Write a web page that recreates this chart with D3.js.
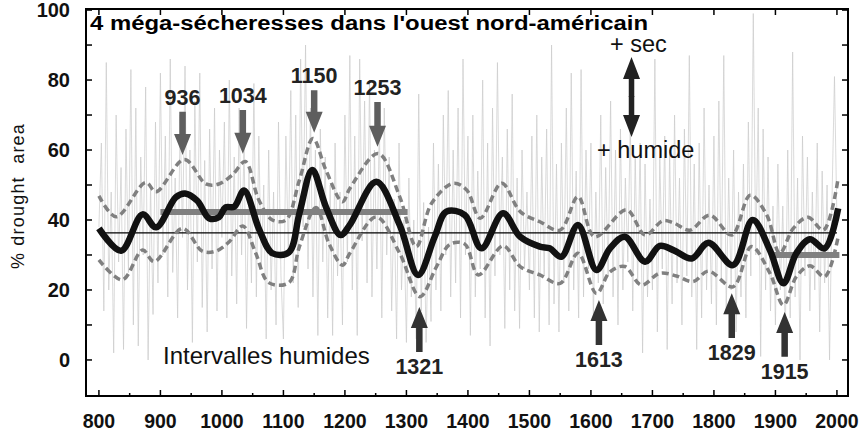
<!DOCTYPE html>
<html>
<head>
<meta charset="utf-8">
<script src="https://cdn.jsdelivr.net/npm/d3@7"></script>
<style>
  body { margin: 0; background: #fff; }
  svg { font-family: "Liberation Sans", Arial, sans-serif; }
</style>
</head>
<body>
<div id="chart"></div>
<script>
// annual drought area (sampled every 4 years, 800-2000)
var annualStart = 800, annualStep = 4;
var annualValues = [
  38, 62, 14, 85, 20, 48, 2, 70, 28, 55, 3, 66, 25, 83, 10, 72, 4, 58, 30, 78, 0, 50, 13, 68, 22,
  82, 30, 64, 18, 86, 25, 52, 12, 70, 35, 84, 20, 60, 5, 74, 28, 82, 15, 57, 8, 66, 26, 72, 14, 60,
  35, 68, 12, 80, 24, 58, 16, 72, 30, 62, 9, 54, 22, 79, 18, 64, 26, 50, 6, 60, 20, 48, 10, 68, 24,
  6, 64, 30, 77, 22, 70, 15, 86, 38, 90, 26, 72, 18, 60, 7, 66, 28, 58, 12, 50, 7, 62, 24, 48, 10,
  70, 28, 87, 20, 64, 7, 86, 34, 74, 22, 80, 18, 60, 26, 68, 12, 72, 30, 58, 14, 46, 6, 62, 20, 40,
  5, 52, 18, 40, 6, 76, 14, 45, 5, 38, 11, 62, 20, 56, 14, 70, 30, 77, 18, 60, 22, 72, 12, 86, 30,
  64, 7, 70, 18, 54, 26, 80, 12, 62, 4, 72, 24, 85, 30, 58, 9, 66, 20, 76, 14, 52, 9, 60, 26, 48,
  20, 64, 12, 70, 8, 58, 24, 66, 10, 90, 16, 56, 8, 62, 22, 72, 14, 82, 20, 54, 12, 83, 18, 60, 26,
  62, 12, 48, 22, 70, 16, 55, 24, 74, 18, 60, 10, 66, 20, 52, 28, 68, 14, 58, 22, 62, 2, 56, 18, 46,
  20, 86, 8, 58, 26, 64, 3, 60, 16, 70, 22, 52, 10, 66, 24, 87, 18, 56, 3, 62, 12, 72, 20, 50, 16,
  64, 10, 74, 22, 87, 14, 52, 20, 60, 8, 48, 18, 56, 12, 68, 24, 99, 30, 72, 1, 66, 20, 58, 14, 44,
  10, 56, 20, 44, 6, 60, 12, 88, 18, 52, 0, 64, 24, 58, 14, 48, 20, 62, 8, 54, 22, 50, 0, 46, 81,
  40
];

// smoothed series
var smoothYears = [800, 836, 871, 893, 925, 940, 960, 979, 995, 1006, 1020, 1036, 1061, 1082, 1109, 1126, 1147, 1169, 1193, 1208, 1251, 1289, 1319, 1346, 1365, 1395, 1422, 1457, 1485, 1517, 1533, 1552, 1579, 1609, 1631, 1655, 1688, 1712, 1734, 1764, 1791, 1831, 1863, 1891, 1913, 1934, 1956, 1980, 2002];
var smoothValues = [37.6, 31.2, 41.6, 37.9, 46.5, 47.6, 45.5, 40.5, 40.8, 43.6, 43.8, 48.4, 37.1, 30.5, 30.8, 41.9, 54.3, 43.8, 35.7, 38.6, 50.9, 38.6, 24.3, 35.2, 42.4, 41.4, 31.9, 41.9, 35.2, 32.4, 31.9, 29.5, 38.6, 25.7, 31.9, 35.2, 28.1, 32.6, 31.4, 29.0, 33.5, 27.1, 40.0, 31.4, 21.9, 30.5, 34.5, 31.9, 43.3];

// upper / lower confidence bounds
var upperYears = [800, 828, 876, 893, 939, 974, 995, 1017, 1038, 1060, 1082, 1104, 1126, 1148, 1169, 1196, 1208, 1254, 1289, 1316, 1341, 1376, 1398, 1420, 1455, 1485, 1517, 1550, 1579, 1606, 1658, 1688, 1717, 1734, 1761, 1793, 1829, 1859, 1886, 1907, 1929, 1953, 1978, 2002];
var upperValues = [46.9, 40.9, 50.7, 48.1, 57.3, 50.3, 50.3, 52.9, 56.7, 45.7, 40.0, 40.0, 51.4, 63.3, 54.3, 45.2, 49.0, 59.0, 46.7, 32.4, 44.8, 50.5, 48.6, 40.5, 50.5, 42.4, 39.5, 37.1, 46.7, 35.2, 42.9, 35.7, 39.8, 39.2, 37.1, 41.4, 35.7, 47.1, 41.4, 30.5, 37.6, 40.8, 37.1, 51.9];
var lowerYears = [800, 838, 871, 890, 936, 968, 990, 1012, 1034, 1055, 1076, 1109, 1126, 1153, 1174, 1196, 1208, 1251, 1289, 1322, 1349, 1371, 1395, 1417, 1457, 1485, 1517, 1550, 1579, 1609, 1631, 1655, 1682, 1712, 1739, 1766, 1791, 1831, 1861, 1891, 1913, 1934, 1956, 1980, 2002];
var lowerValues = [28.6, 22.9, 31.4, 28.1, 37.6, 31.1, 31.1, 33.8, 38.3, 30.5, 22.1, 22.1, 32.4, 43.6, 33.3, 27.1, 30.5, 40.9, 30.5, 18.1, 26.7, 33.1, 33.1, 24.3, 32.6, 26.7, 24.3, 21.9, 30.5, 19.0, 25.2, 26.7, 21.4, 24.8, 24.0, 22.4, 25.4, 20.9, 32.4, 24.8, 15.7, 23.8, 26.9, 23.8, 35.2];

var meanValue = 36.3;
var megaPeriods = [[900, 1302, 42.3], [1896, 2004, 30]];

// events: year, arrow start value, arrow tip value
var dryEvents = [[936, 70.9, 58.6], [1034, 71.4, 58.9], [1150, 77.1, 64.9], [1253, 73.7, 60.9]];
var wetEvents = [[1321, 2.3, 15.1], [1613, 4.3, 17.1], [1829, 6.3, 19.1], [1915, 0.9, 13.7]];

var xTicks = [800, 900, 1000, 1100, 1200, 1300, 1400, 1500, 1600, 1700, 1800, 1900, 2000];
var yTicks = [0, 20, 40, 60, 80, 100];

var width = 861, height = 436;
var svg = d3.select("#chart").append("svg").attr("width", width).attr("height", height);

var x = d3.scaleLinear().domain([779, 2018]).range([86, 848]);
var y = d3.scaleLinear().domain([-10.3, 100.3]).range([396, 9]);

// annual series
var annual = annualValues.map(function(v, i) { return [annualStart + i * annualStep, v]; });
svg.append("path")
  .datum(annual)
  .attr("fill", "none")
  .attr("stroke", "#cacaca")
  .attr("stroke-width", 0.7)
  .attr("d", d3.line().x(function(d) { return x(d[0]); }).y(function(d) { return y(d[1]); }));

var smoothLine = d3.line()
  .curve(d3.curveCatmullRom.alpha(0.5))
  .x(function(d) { return x(d[0]); })
  .y(function(d) { return y(d[1]); });

function zip(a, b) { return a.map(function(v, i) { return [v, b[i]]; }); }

// mean line
svg.append("line")
  .attr("x1", x(800)).attr("x2", x(2000))
  .attr("y1", y(meanValue)).attr("y2", y(meanValue))
  .attr("stroke", "#000").attr("stroke-width", 1.3);

// dashed bounds
[zip(upperYears, upperValues), zip(lowerYears, lowerValues)].forEach(function(s) {
  svg.append("path")
    .datum(s)
    .attr("fill", "none")
    .attr("stroke", "#808080")
    .attr("stroke-width", 3.5)
    .attr("stroke-dasharray", "7,4")
    .attr("d", smoothLine);
});

// mega-drought mean levels
svg.selectAll(".period")
  .data(megaPeriods)
  .enter().append("line")
  .attr("x1", function(d) { return x(d[0]); })
  .attr("x2", function(d) { return x(d[1]); })
  .attr("y1", function(d) { return y(d[2]); })
  .attr("y2", function(d) { return y(d[2]); })
  .attr("stroke", "#808080")
  .attr("stroke-width", 6);

// smoothed line
svg.append("path")
  .datum(zip(smoothYears, smoothValues))
  .attr("fill", "none")
  .attr("stroke", "#111")
  .attr("stroke-width", 6.5)
  .attr("stroke-linejoin", "round")
  .attr("d", smoothLine);

// frame and ticks
var frame = svg.append("g").attr("stroke", "#000").attr("stroke-width", 1.5);
frame.append("rect")
  .attr("x", 86).attr("y", 9).attr("width", 762).attr("height", 387)
  .attr("fill", "none").attr("stroke-width", 2);

var xMinor = d3.range(800, 2001, 50);
frame.selectAll(".xb").data(xMinor).enter().append("line")
  .attr("x1", function(d) { return x(d); }).attr("x2", function(d) { return x(d); })
  .attr("y1", 396).attr("y2", function(d) { return d % 100 === 0 ? 390 : 393; });
frame.selectAll(".xt").data(xTicks).enter().append("line")
  .attr("x1", function(d) { return x(d); }).attr("x2", function(d) { return x(d); })
  .attr("y1", 9).attr("y2", 15);
var yMinor = d3.range(0, 101, 10);
frame.selectAll(".yl").data(yMinor).enter().append("line")
  .attr("y1", function(d) { return y(d); }).attr("y2", function(d) { return y(d); })
  .attr("x1", 86).attr("x2", 92);
frame.selectAll(".yr").data(yMinor).enter().append("line")
  .attr("y1", function(d) { return y(d); }).attr("y2", function(d) { return y(d); })
  .attr("x1", 848).attr("x2", 842);

svg.selectAll(".xl").data(xTicks).enter().append("text")
  .attr("x", function(d) { return x(d); })
  .attr("y", 428)
  .attr("text-anchor", "middle")
  .attr("font-size", 19.5).attr("font-weight", "bold").attr("fill", "#111")
  .text(function(d) { return d; });
svg.selectAll(".ylab").data(yTicks).enter().append("text")
  .attr("x", 70)
  .attr("y", function(d) { return y(d); })
  .attr("dy", "0.36em")
  .attr("text-anchor", "end")
  .attr("font-size", 20).attr("font-weight", "bold").attr("fill", "#111")
  .text(function(d) { return d; });

svg.append("text")
  .attr("transform", "translate(24,196) rotate(-90)")
  .attr("text-anchor", "middle")
  .attr("font-size", 18).attr("letter-spacing", 1.2).attr("fill", "#111")
  .attr("xml:space", "preserve")
  .text("% drought  area");

// arrows
function arrow(xc, yFrom, yTip, shaftW, headW, headL) {
  var dir = yTip > yFrom ? 1 : -1;
  var yNeck = yTip - dir * headL;
  return "M" + (xc - shaftW / 2) + "," + yFrom +
    "L" + (xc + shaftW / 2) + "," + yFrom +
    "L" + (xc + shaftW / 2) + "," + yNeck +
    "L" + (xc + headW / 2) + "," + yNeck +
    "L" + xc + "," + yTip +
    "L" + (xc - headW / 2) + "," + yNeck +
    "L" + (xc - shaftW / 2) + "," + yNeck + "Z";
}

var dry = svg.selectAll(".dry").data(dryEvents).enter().append("g");
dry.append("path")
  .attr("fill", "#5e5e5e")
  .attr("d", function(d) { return arrow(x(d[0]), y(d[1]), y(d[2]), 6.5, 17, 21); });
dry.append("text")
  .attr("x", function(d) { return x(d[0]); })
  .attr("y", function(d) { return y(d[1]) - 7; })
  .attr("text-anchor", "middle")
  .attr("font-size", 21.5).attr("font-weight", "bold").attr("fill", "#222")
  .text(function(d) { return d[0]; });

var wet = svg.selectAll(".wet").data(wetEvents).enter().append("g");
wet.append("path")
  .attr("fill", "#333")
  .attr("d", function(d) { return arrow(x(d[0]), y(d[1]), y(d[2]), 6.5, 17, 21); });
wet.append("text")
  .attr("x", function(d) { return x(d[0]); })
  .attr("y", function(d) { return y(d[1]) + 22; })
  .attr("text-anchor", "middle")
  .attr("font-size", 21.5).attr("font-weight", "bold").attr("fill", "#222")
  .text(function(d) { return d[0]; });

// double arrow + sec / + humide
var dx = x(1666), dTop = y(86.6), dBot = y(63.7), dMid = (dTop + dBot) / 2;
svg.append("path").attr("fill", "#222").attr("d", arrow(dx, dMid, dTop, 5.5, 17, 22));
svg.append("path").attr("fill", "#222").attr("d", arrow(dx, dMid - 1, dBot, 5.5, 17, 22));
svg.append("text").attr("x", 610).attr("y", 52)
  .attr("font-size", 23.5).attr("fill", "#111").text("+ sec");
svg.append("text").attr("x", 597).attr("y", 158)
  .attr("font-size", 23.5).attr("fill", "#111").text("+ humide");

svg.append("text").attr("x", 163).attr("y", 364)
  .attr("font-size", 24).attr("fill", "#111").text("Intervalles humides");

svg.append("text").attr("x", 90).attr("y", 30)
  .attr("font-size", 20).attr("font-weight", "bold").attr("fill", "#000")
  .attr("textLength", 558).attr("lengthAdjust", "spacingAndGlyphs")
  .text("4 méga-sécheresses dans l'ouest nord-américain");
</script>
</body>
</html>
